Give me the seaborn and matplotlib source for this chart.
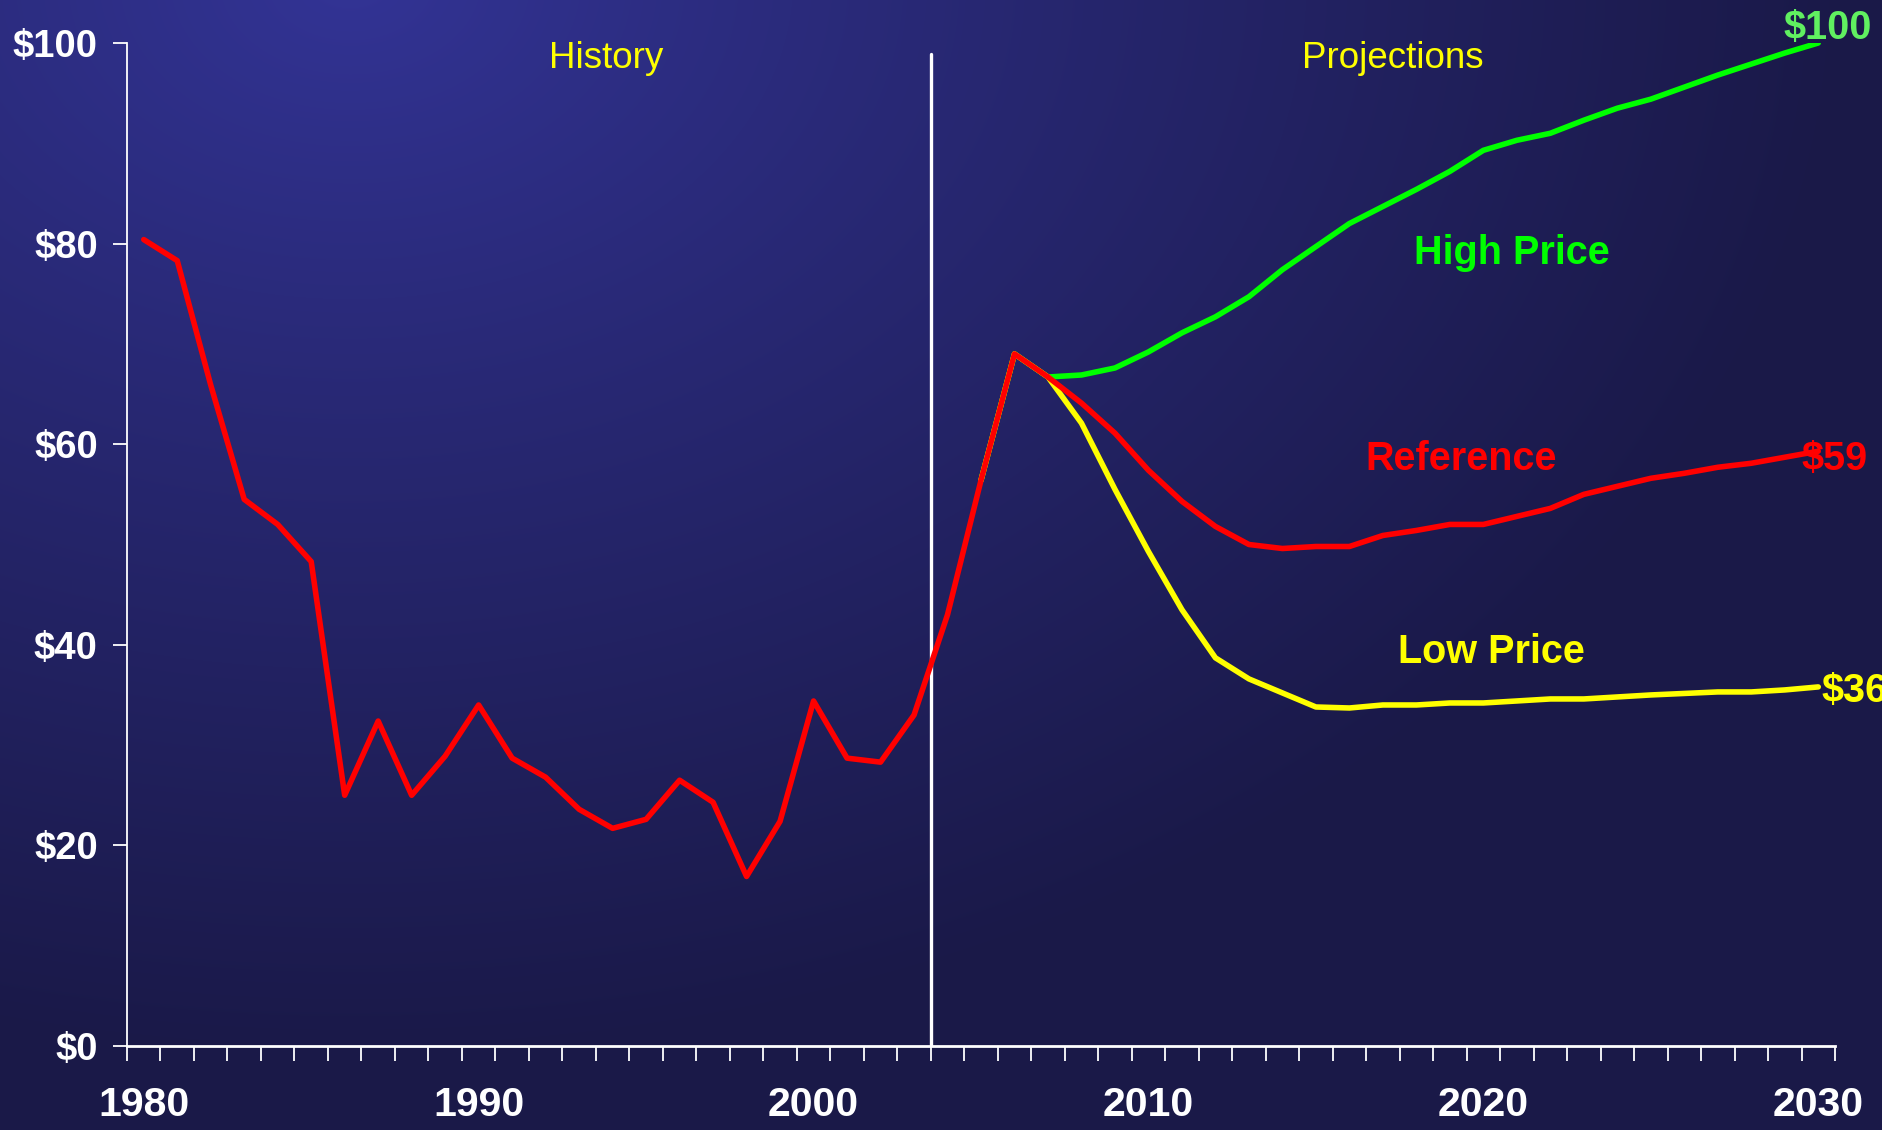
import numpy as np
import pandas as pd
import matplotlib
matplotlib.use("Agg")
import matplotlib.pyplot as plt
import seaborn as sns
from matplotlib import font_manager as fm

# ---------------- data ----------------
hist_years = list(range(1980, 2008))
hist_price = [80.4, 78.3, 65.9, 54.5, 52.0, 48.3, 25.0, 32.4, 25.0, 28.9,
              34.0, 28.7, 26.8, 23.6, 21.7, 22.6, 26.5, 24.3, 16.9, 22.4,
              34.4, 28.7, 28.3, 33.0, 43.0, 56.4, 69.0, 66.7]

ref_years = list(range(2008, 2031))
ref_price = [64.1, 61.1, 57.4, 54.3, 51.8, 50.0, 49.6, 49.8, 49.8, 50.9,
             51.4, 52.0, 52.0, 52.8, 53.6, 55.0, 55.8, 56.6, 57.1, 57.7,
             58.1, 58.7, 59.3]

case_years = list(range(2005, 2031))
high_price = [56.4, 69.0, 66.7, 66.9, 67.6, 69.2, 71.1, 72.7, 74.7, 77.4,
              79.7, 82.0, 83.7, 85.4, 87.2, 89.3, 90.3, 91.0, 92.3, 93.5,
              94.4, 95.6, 96.8, 97.9, 99.0, 100.0]
low_price = [56.4, 69.0, 66.7, 62.1, 55.5, 49.3, 43.5, 38.7, 36.6, 35.2,
             33.8, 33.7, 34.0, 34.0, 34.2, 34.2, 34.4, 34.6, 34.6, 34.8,
             35.0, 35.15, 35.3, 35.3, 35.5, 35.8]

y_ticks = [0, 20, 40, 60, 80, 100]
y_tick_labels = ["$0", "$20", "$40", "$60", "$80", "$100"]
x_ticks = [1980, 1990, 2000, 2010, 2020, 2030]
x_tick_labels = ["1980", "1990", "2000", "2010", "2020", "2030"]

# ---------------- style ----------------
sns.set_style("ticks")
plt.rcParams['font.family'] = ['Liberation Sans', 'DejaVu Sans']

names = {f.name for f in fm.fontManager.ttflist}
if 'Liberation Sans Narrow' in names:
    xfont, xsize = ['Liberation Sans Narrow', 'Liberation Sans'], 35
else:
    xfont, xsize = ['Liberation Sans', 'DejaVu Sans'], 29.5

W, H = 1883, 1130
fig = plt.figure(figsize=(W / 100, H / 100), dpi=100)

# background gradient
yy, xx = np.mgrid[0:H, 0:W]
t = np.sqrt(((xx - 350) / 1500.0) ** 2 + ((yy + 20) / 1080.0) ** 2)
t = np.clip(t, 0, 1) ** 0.9
light = np.array([51, 52, 150]) / 255.0
dark = np.array([26, 25, 72]) / 255.0
img = light[None, None, :] * (1 - t[..., None]) + dark[None, None, :] * t[..., None]
fig.figimage(img, xo=0, yo=0, origin='upper', zorder=-10)

ax = fig.add_axes([127 / W, 1 - 1046 / H, (1835 - 127) / W, (1046 - 43) / H])
ax.set_facecolor('none')

WHITE = '#ffffff'
RED = '#ff0000'
GREEN = '#00ff00'
YELLOW = '#ffff00'
lw = 4.0

df_high = pd.DataFrame({'year': case_years, 'price': high_price})
df_low = pd.DataFrame({'year': case_years, 'price': low_price})
df_hist = pd.DataFrame({'year': hist_years, 'price': hist_price})
df_ref = pd.DataFrame({'year': [hist_years[-1]] + ref_years,
                       'price': [hist_price[-1]] + ref_price})

sns.lineplot(data=df_high, x='year', y='price', color=GREEN, linewidth=lw, ax=ax,
             solid_joinstyle='round', solid_capstyle='round', zorder=3)
sns.lineplot(data=df_low, x='year', y='price', color=YELLOW, linewidth=lw, ax=ax,
             solid_joinstyle='round', solid_capstyle='round', zorder=3)
sns.lineplot(data=df_hist, x='year', y='price', color=RED, linewidth=lw, ax=ax,
             solid_joinstyle='round', solid_capstyle='round', zorder=4)
sns.lineplot(data=df_ref, x='year', y='price', color=RED, linewidth=lw, ax=ax,
             solid_joinstyle='round', solid_capstyle='round', zorder=4)

# divider between history and projections
ax.plot([2003.5, 2003.5], [0, 98.9], color=WHITE, linewidth=2.4, zorder=2)

ax.set_xlim(1979.5, 2030.5)
ax.set_ylim(0, 100)
ax.set_xlabel('')
ax.set_ylabel('')

for s in ['top', 'right']:
    ax.spines[s].set_visible(False)
ax.spines['left'].set_color(WHITE)
ax.spines['left'].set_linewidth(1.3)
ax.spines['bottom'].set_color(WHITE)
ax.spines['bottom'].set_linewidth(2.0)

ax.set_yticks(y_ticks)
ax.set_yticklabels(y_tick_labels, fontsize=27.5, fontweight='bold', color=WHITE)
ax.tick_params(axis='y', direction='out', length=10, width=1.3, color=WHITE, pad=11)

ax.set_xticks(x_ticks)
ax.set_xticklabels(x_tick_labels, fontsize=xsize, fontweight='bold', color=WHITE,
                   fontfamily=xfont)
ax.set_xticks(np.arange(1979.5, 2031, 1.0), minor=True)
ax.tick_params(axis='x', which='major', length=0, pad=29)
ax.tick_params(axis='x', which='minor', direction='out', length=11, width=1.3,
               color=WHITE)

# annotations
ax.text(1993.8, 97.5, "History", color=YELLOW, fontsize=26.5, ha='center', va='baseline')
ax.text(2017.3, 97.5, "Projections", color=YELLOW, fontsize=26.5, ha='center', va='baseline')
ax.text(2020.85, 78.0, "High Price", color=GREEN, fontsize=28.5, fontweight='bold',
        ha='center', va='baseline')
ax.text(2019.34, 57.4, "Reference", color=RED, fontsize=28.5, fontweight='bold',
        ha='center', va='baseline')
ax.text(2020.24, 38.2, "Low Price", color=YELLOW, fontsize=28.5, fontweight='bold',
        ha='center', va='baseline')
ax.text(2030.27, 100.35, "$100", color='#60f060', fontsize=28.5, fontweight='bold',
        ha='center', va='baseline', clip_on=False, zorder=5)
ax.text(2030.5, 57.4, "$59", color=RED, fontsize=28.5, fontweight='bold',
        ha='center', va='baseline', clip_on=False, zorder=5)
ax.text(2030.1, 34.3, "$36", color=YELLOW, fontsize=28.5, fontweight='bold',
        ha='left', va='baseline', clip_on=False, zorder=5)

fig.savefig("out.png", dpi=100)
